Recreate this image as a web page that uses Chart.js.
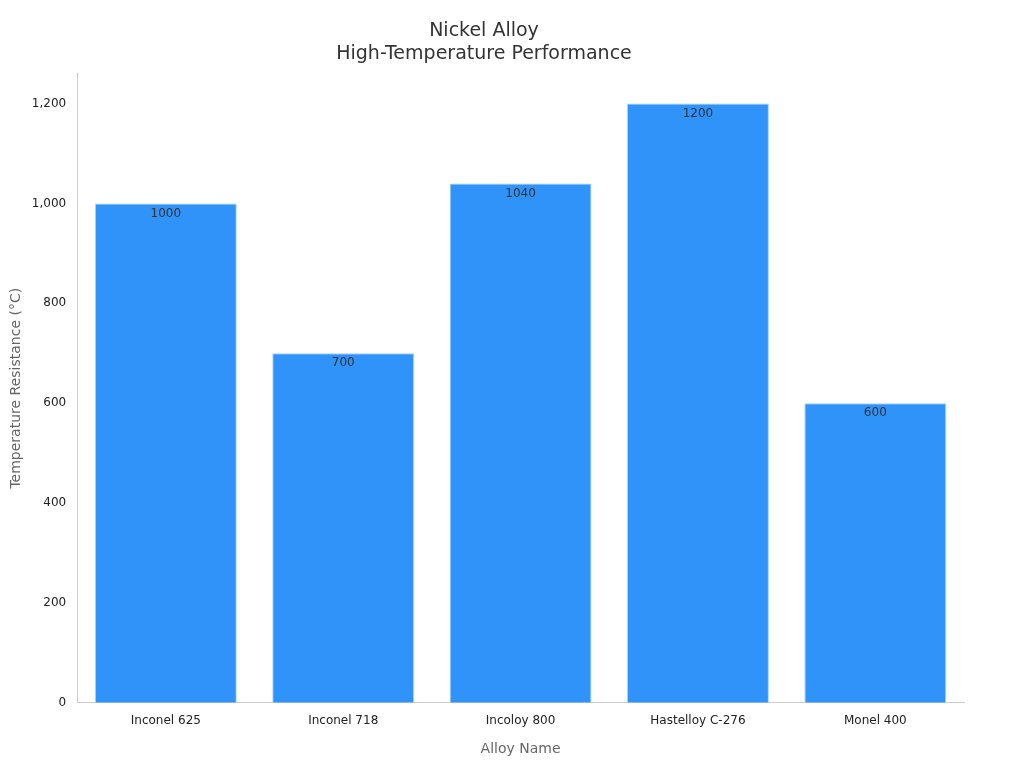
<!DOCTYPE html>
<html><head><meta charset="utf-8">
<script src="https://cdn.jsdelivr.net/npm/chart.js@4/dist/chart.umd.min.js"></script>
<style>html,body{margin:0;padding:0;background:#fff}#wrap{width:1024px;height:768px}</style>
</head><body><div id="wrap"><canvas id="c"></canvas></div>
<script>
const categories = ["Inconel 625","Inconel 718","Incoloy 800","Hastelloy C-276","Monel 400"];
const values = [1000,700,1040,1200,600];
const yTicks = [0,200,400,600,800,1000,1200];
const font = "DejaVu Sans";
const labelPlugin = {
  id:'lbl',
  afterDatasetsDraw(chart){
    const ctx=chart.ctx, meta=chart.getDatasetMeta(0);
    ctx.save();ctx.font="12px "+font;ctx.fillStyle="#333";ctx.textAlign="center";ctx.textBaseline="top";
    meta.data.forEach((b,i)=>ctx.fillText(String(values[i]),b.x,b.y+4));
    ctx.restore();
  }
};
new Chart(document.getElementById('c'),{
  type:'bar',
  data:{labels:categories,datasets:[{data:values,backgroundColor:'#2f93f9',borderColor:'#a9cff7',borderWidth:1,barPercentage:0.8,categoryPercentage:1}]},
  plugins:[labelPlugin],
  options:{
    responsive:true,maintainAspectRatio:false,animation:false,
    layout:{padding:{left:4,right:60,top:10,bottom:6}},
    plugins:{legend:{display:false},tooltip:{enabled:false},
      title:{display:true,text:["Nickel Alloy","High-Temperature Performance"],color:'#333',font:{family:font,size:19,weight:'normal'},padding:{top:10,bottom:8},lineHeight:1.25}},
    scales:{
      x:{grid:{display:false},border:{color:'#ccc'},ticks:{color:'#222',font:{family:font,size:12}},
        title:{display:true,text:'Alloy Name',color:'#666',font:{family:font,size:14},padding:{top:10}}},
      y:{min:0,max:1260,grid:{display:false,drawTicks:true},border:{color:'#ccc'},
        afterBuildTicks(a){a.ticks=yTicks.map(v=>({value:v}));},
        ticks:{color:'#222',font:{family:font,size:12}},
        title:{display:true,text:'Temperature Resistance (°C)',color:'#666',font:{family:font,size:14}}}
    }
  }
});
</script></body></html>
